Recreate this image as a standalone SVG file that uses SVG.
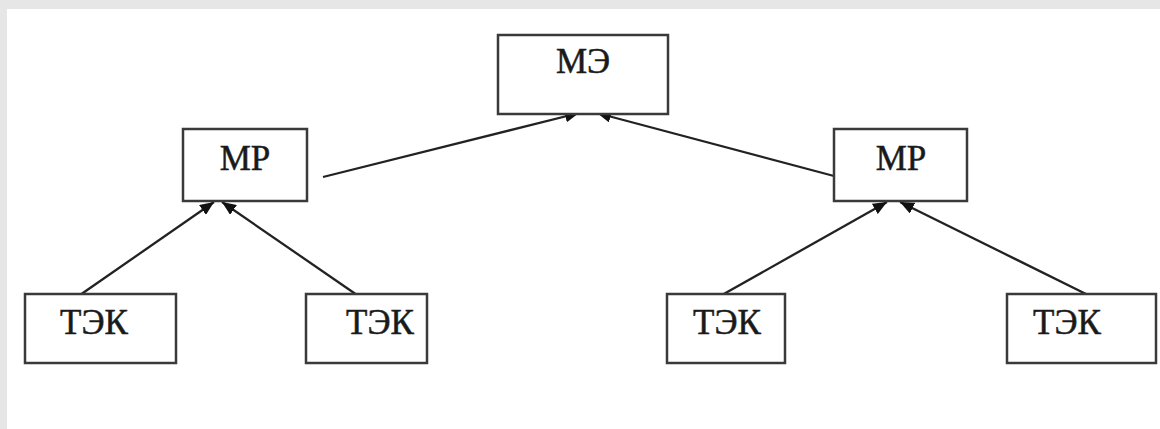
<svg xmlns="http://www.w3.org/2000/svg" width="1160" height="429" viewBox="0 0 1160 429">
<style>
.box{fill:#fff;stroke:#3a3a3a;stroke-width:2.5}
.lbl{font-family:"Liberation Serif","Times New Roman",serif;font-size:35px;fill:#1a1a1a;stroke:#1a1a1a;stroke-width:0.5;text-anchor:middle}
.ln{stroke:#222;stroke-width:2.3;fill:none}
</style>
<defs>
<marker id="ah" viewBox="0 0 14 12" refX="14" refY="6" markerWidth="14" markerHeight="12" orient="auto" markerUnits="userSpaceOnUse">
<path d="M0,0 L14,6 L0,12 z" fill="#111"/>
</marker>
</defs>
<rect x="0" y="0" width="1160" height="429" fill="#e6e6e6"/>
<rect x="7" y="9" width="1153" height="420" fill="#fff"/>
<g id="connectors">
<line class="ln" x1="323" y1="177" x2="579" y2="113" marker-end="url(#ah)"/>
<line class="ln" x1="834" y1="176" x2="597" y2="113" marker-end="url(#ah)"/>
<line class="ln" x1="80" y1="295" x2="214" y2="202" marker-end="url(#ah)"/>
<line class="ln" x1="357" y1="295" x2="222" y2="202" marker-end="url(#ah)"/>
<line class="ln" x1="722" y1="295" x2="887" y2="202" marker-end="url(#ah)"/>
<line class="ln" x1="1088" y1="295" x2="900" y2="202" marker-end="url(#ah)"/>
</g>
<g id="me"><rect class="box" x="498" y="35" width="170" height="79"/><text class="lbl" x="583" y="73">МЭ</text></g>
<g id="mr1"><rect class="box" x="183" y="129" width="124" height="72"/><text class="lbl" x="245" y="170">МР</text></g>
<g id="mr2"><rect class="box" x="834" y="129" width="133" height="72"/><text class="lbl" x="901" y="170">МР</text></g>
<g id="tek1"><rect class="box" x="25" y="294" width="151" height="69"/><text class="lbl" x="94" y="334">ТЭК</text></g>
<g id="tek2"><rect class="box" x="306" y="294" width="121" height="69"/><text class="lbl" x="380" y="334">ТЭК</text></g>
<g id="tek3"><rect class="box" x="667" y="294" width="118" height="69"/><text class="lbl" x="727" y="334">ТЭК</text></g>
<g id="tek4"><rect class="box" x="1007" y="294" width="149" height="69"/><text class="lbl" x="1067" y="334">ТЭК</text></g>
</svg>
